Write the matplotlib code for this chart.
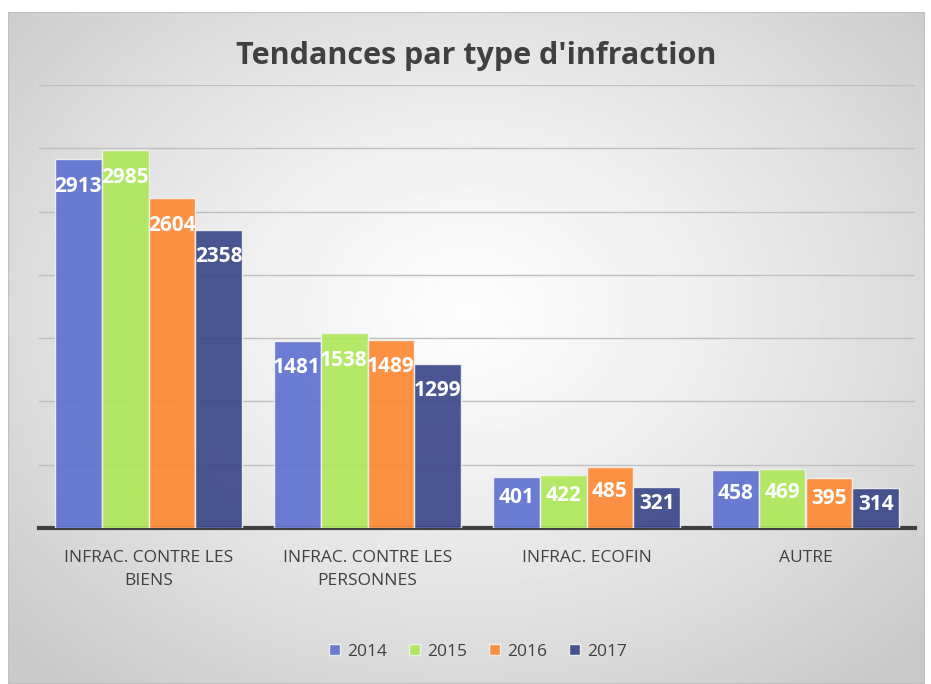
import numpy as np
import matplotlib.pyplot as plt

categories = ["INFRAC. CONTRE LES\nBIENS", "INFRAC. CONTRE LES\nPERSONNES",
              "INFRAC. ECOFIN", "AUTRE"]
years = ["2014", "2015", "2016", "2017"]
v2014 = [2913, 1481, 401, 458]
v2015 = [2985, 1538, 422, 469]
v2016 = [2604, 1489, 485, 395]
v2017 = [2358, 1299, 321, 314]
series = [v2014, v2015, v2016, v2017]
colors = ["#5f72d0", "#aee85a", "#ff8a35", "#3b4889"]

plt.rcParams['font.family'] = ['Open Sans', 'DejaVu Sans']

fig = plt.figure(figsize=(9.31, 6.84), dpi=100)

# radial grey background
bg = fig.add_axes([8/931, 0, 917/931, 672/684], zorder=-5)
yy, xx = np.mgrid[-1:1:300j, -1:1:400j]
rr = np.sqrt((xx*0.95)**2 + (yy*0.9 + 0.1)**2)
img = 0.99 - 0.2*np.clip(rr/1.3, 0, 1)**1.3
bg.imshow(img, cmap='gray', vmin=0, vmax=1, aspect='auto', extent=[0, 1, 0, 1])
bg.set_axis_off()
bg.add_patch(plt.Rectangle((0, 0), 1, 1, fill=False, ec='#c0c0c0', lw=1.5,
                           transform=bg.transAxes))

ax = fig.add_axes([39/931, 1 - 528/684, 876/931, 443/684])
ax.patch.set_alpha(0)

x = np.arange(len(categories))
w = 0.214
for i, (vals, c, yr) in enumerate(zip(series, colors, years)):
    pos = x + (i - 1.5)*w
    ax.bar(pos, vals, width=w, color=c, alpha=0.92, edgecolor='#f2f2f2',
           linewidth=1.0, label=yr, zorder=3)
    for px, v in zip(pos, vals):
        ly = max(v - 213, v*0.6)
        ax.text(px, ly, str(v), ha='center', va='center', color='white',
                fontsize=15, fontweight='bold', zorder=4)

ax.set_xlim(-0.5, 3.5)
ax.set_ylim(0, 3500)
ax.set_yticks(np.arange(500, 3501, 500))
ax.yaxis.grid(True, color='#bfbfbf', lw=1)
ax.set_axisbelow(True)
ax.tick_params(axis='y', length=0, labelleft=False)
ax.set_xticks(x)
ax.set_xticklabels(categories, fontsize=12.5, color='#404040', linespacing=1.55)
ax.tick_params(axis='x', length=0, pad=16)
for s in ['top', 'right', 'left']:
    ax.spines[s].set_visible(False)
ax.spines['bottom'].set_color('#404040')
ax.spines['bottom'].set_linewidth(3)

fig.text(476/931, 1 - 56/684, "Tendances par type d'infraction", ha='center',
         va='center', fontsize=22, fontweight='bold', color='#404040')

leg = fig.legend(loc='center', bbox_to_anchor=(478/931, 1 - 652/684), ncol=4,
                 frameon=False, fontsize=12.5, handlelength=0.6, handleheight=0.6,
                 handletextpad=0.4, columnspacing=1.3, labelcolor='#404040')

fig.savefig("out.png", dpi=100)
